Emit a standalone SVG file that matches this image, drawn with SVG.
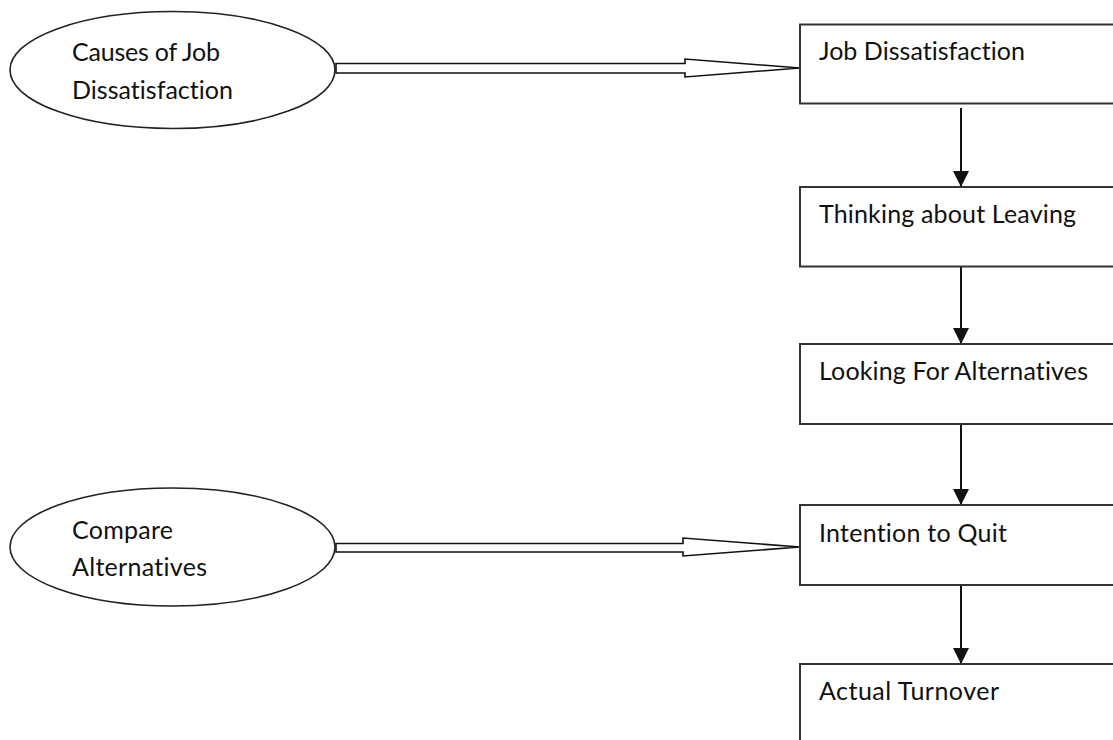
<svg xmlns="http://www.w3.org/2000/svg" width="1113" height="740" viewBox="0 0 1113 740">
<style>
.box{fill:#fff;stroke:#333;stroke-width:2}
.ell{fill:#fff;stroke:#222;stroke-width:1.6}
.t{font-family:Lato,"Liberation Sans",sans-serif;font-size:25px;fill:#111;font-variant-ligatures:none}
.v{stroke:#111;stroke-width:2;fill:none}
.fat{fill:#fff;stroke:#111;stroke-width:1.6;stroke-linejoin:miter}
</style>
<defs>
<marker id="ah" viewBox="0 0 16 16" refX="16" refY="8" markerWidth="16" markerHeight="16" markerUnits="userSpaceOnUse" orient="auto">
<path d="M0,0 L16,8 L0,16 Z" fill="#111"/>
</marker>
</defs>
<rect width="1113" height="740" fill="#fff"/>
<g id="connectors">
<polygon class="fat" points="336,63.5 685,63.5 685,59 800,68 685,77 685,73 336,73"/>
<polygon class="fat" points="336,543.5 683,543.5 683,538 800,547 683,556 683,552 336,552"/>
<line class="v" x1="961" y1="108" x2="961" y2="187" marker-end="url(#ah)"/>
<line class="v" x1="961" y1="267" x2="961" y2="344" marker-end="url(#ah)"/>
<line class="v" x1="961" y1="424" x2="961" y2="505" marker-end="url(#ah)"/>
<line class="v" x1="961" y1="585" x2="961" y2="664" marker-end="url(#ah)"/>
</g>
<g id="causes">
<ellipse class="ell" cx="172.5" cy="70" rx="162.5" ry="58.5"/>
<text class="t" x="72" y="61" textLength="148">Causes of Job</text>
<text class="t" x="72" y="99" textLength="161">Dissatisfaction</text>
</g>
<g id="compare">
<ellipse class="ell" cx="172.5" cy="547" rx="162.5" ry="59"/>
<text class="t" x="72" y="539" textLength="101">Compare</text>
<text class="t" x="72" y="576" textLength="135">Alternatives</text>
</g>
<g id="job-dissatisfaction">
<rect class="box" x="800" y="24.5" width="330" height="79"/>
<text class="t" x="819" y="60" textLength="206">Job Dissatisfaction</text>
</g>
<g id="thinking-about-leaving">
<rect class="box" x="800" y="187" width="330" height="79.5"/>
<text class="t" x="819" y="223" textLength="257">Thinking about Leaving</text>
</g>
<g id="looking-for-alternatives">
<rect class="box" x="800" y="344" width="330" height="80"/>
<text class="t" x="819" y="380" textLength="269">Looking For Alternatives</text>
</g>
<g id="intention-to-quit">
<rect class="box" x="800" y="505" width="330" height="80"/>
<text class="t" x="819" y="542" textLength="188">Intention to Quit</text>
</g>
<g id="actual-turnover">
<rect class="box" x="800" y="664" width="330" height="100"/>
<text class="t" x="819" y="700" textLength="180">Actual Turnover</text>
</g>
</svg>
